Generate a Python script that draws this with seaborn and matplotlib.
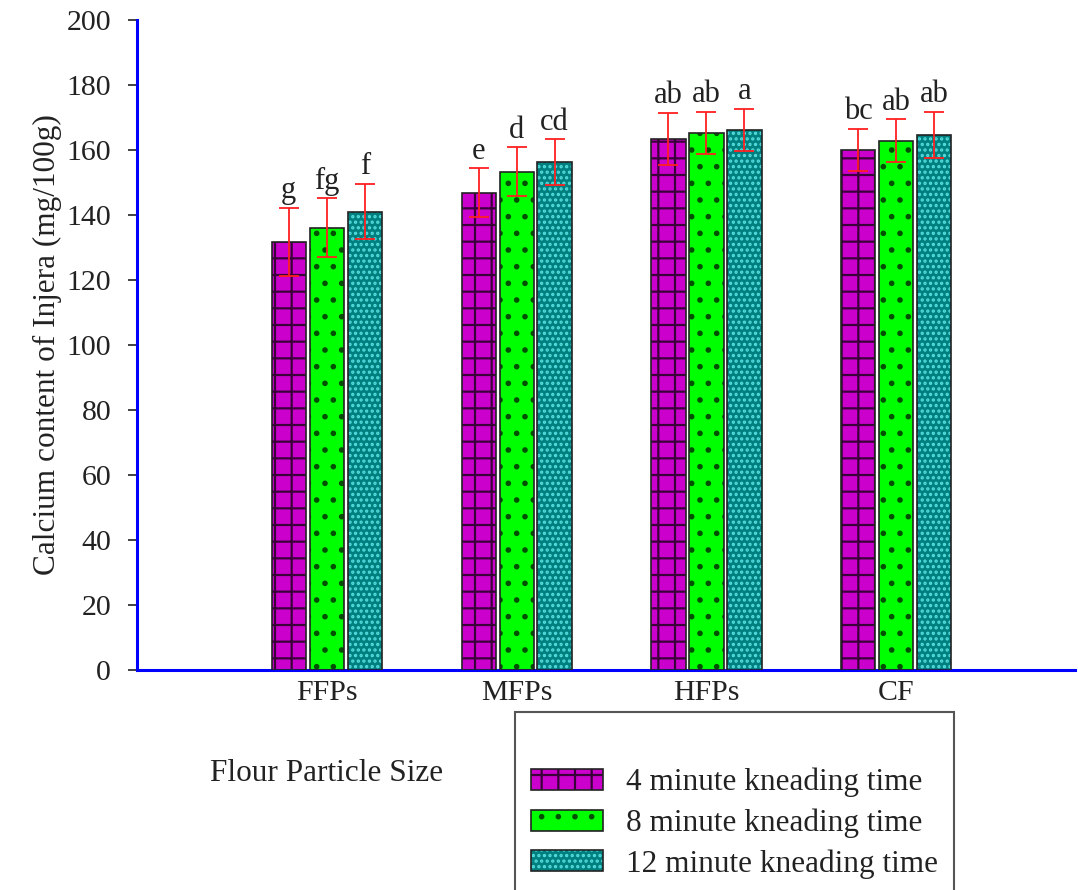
import numpy as np
import pandas as pd
import matplotlib
matplotlib.use("Agg")
import matplotlib.pyplot as plt
from matplotlib.patches import Patch, Rectangle
from matplotlib.legend_handler import HandlerTuple
import seaborn as sns

sns.set_style("white")
plt.rcParams['font.family'] = ['Liberation Serif', 'DejaVu Serif']
plt.rcParams['hatch.linewidth'] = 1.6

# Data
categories = ['FFPs', 'MFPs', 'HFPs', 'CF']
times = ['4 minute kneading time', '8 minute kneading time', '12 minute kneading time']
means_4 = [131.7, 146.8, 163.4, 160.0]
means_8 = [136.0, 153.2, 165.2, 162.8]
means_12 = [141.0, 156.2, 166.0, 164.6]
err_4 = [10.5, 7.5, 8.0, 6.5]
err_8 = [9.0, 7.5, 6.5, 6.5]
err_12 = [8.5, 7.0, 6.5, 7.0]
letters_4 = ['g', 'e', 'ab', 'bc']
letters_8 = ['fg', 'd', 'ab', 'ab']
letters_12 = ['f', 'cd', 'a', 'ab']

means = [means_4, means_8, means_12]
errs = [err_4, err_8, err_12]
letters = [letters_4, letters_8, letters_12]

face_colors = ['#CC00CC', '#00FF00', '#007F7F']
hatch_colors = ['#3A003A', '#005000', '#55DDDD']
hatches = ['+', '.', '...']

text_col = '#222222'

rows = []
for t, vals in zip(times, means):
    for c, v in zip(categories, vals):
        rows.append({'size': c, 'time': t, 'calcium': v})
df = pd.DataFrame(rows)

fig = plt.figure(figsize=(10.78, 8.90), dpi=100)
ax = fig.add_axes([0.127, 0.247, 0.870, 0.731])

sns.barplot(data=df, x='size', y='calcium', hue='time', order=categories,
            hue_order=times, palette=face_colors, saturation=1, errorbar=None,
            width=0.6, gap=0.1, legend=False, ax=ax)

bar_containers = list(ax.containers)
for k, cont in enumerate(bar_containers):
    xs = []
    for p in cont.patches:
        p.set_hatch(hatches[k])
        p.set_edgecolor(hatch_colors[k])
        p.set_linewidth(0)
        ax.add_patch(Rectangle(p.get_xy(), p.get_width(), p.get_height(),
                               fill=False, edgecolor=text_col, linewidth=1.2, zorder=3))
        xs.append(p.get_x() + p.get_width() / 2)
    ax.errorbar(xs, means[k], yerr=errs[k], fmt='none', ecolor='#FF2020',
                elinewidth=1.3, capsize=7.5, capthick=1.3, zorder=4)
    for x, m, e, lab in zip(xs, means[k], errs[k], letters[k]):
        ax.text(x, m + e + 0.8, lab, ha='center', va='bottom', fontsize=22, color=text_col)

ax.set_xlim(-1.0, 3.94)
ax.set_ylim(0, 200)
ax.set_yticks(range(0, 201, 20))
ax.set_xlabel('')
ax.set_ylabel('Calcium content of Injera (mg/100g)', fontsize=22.5, color=text_col, labelpad=3)
ax.tick_params(axis='y', labelsize=21.5, length=6.5, width=1.2, pad=12, direction='out', left=True, colors=text_col)
ax.tick_params(axis='x', labelsize=21.5, length=0, pad=7, colors=text_col)

for s in ['top', 'right']:
    ax.spines[s].set_visible(False)
for s in ['left', 'bottom']:
    ax.spines[s].set_color('#0000FF')
    ax.spines[s].set_linewidth(2.2)

fig.text(0.195, 0.131, 'Flour Particle Size', ha='left', va='center', fontsize=22.5, color=text_col)

handles = []
for k in range(3):
    handles.append((Patch(facecolor=face_colors[k], hatch=hatches[k], edgecolor=hatch_colors[k], linewidth=0),
                    Patch(fill=False, edgecolor=text_col, linewidth=1.2)))
leg = fig.legend(handles, times, handler_map={tuple: HandlerTuple(ndivide=1)},
                 loc='upper left', bbox_to_anchor=(0.478, 0.2), borderaxespad=0,
                 fontsize=22.5, title=' ', title_fontsize=22,
                 handlelength=2.3, handleheight=0.65, handletextpad=0.75,
                 borderpad=0.5, labelspacing=0.36, fancybox=False, framealpha=1)
for t in leg.get_texts():
    t.set_color(text_col)
leg.get_frame().set_edgecolor('#555555')
leg.get_frame().set_linewidth(1.5)

fig.savefig('out.png', dpi=100)
